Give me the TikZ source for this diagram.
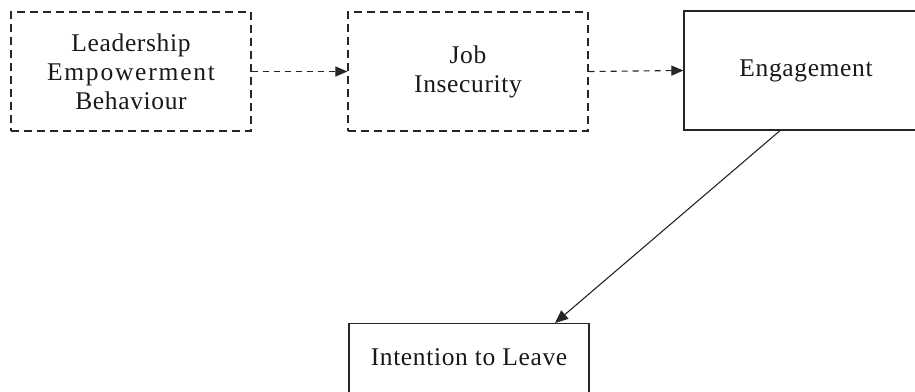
\documentclass[tikz,border=0pt]{standalone}
\usepackage{fontspec}
\setmainfont{Liberation Serif}
\newfontfamily\wideB[LetterSpace=7]{Liberation Serif}
\newfontfamily\wideC[LetterSpace=2.5]{Liberation Serif}
\usetikzlibrary{arrows.meta,positioning}
\begin{document}
\begin{tikzpicture}[x=1pt,y=1pt,
  every node/.style={font=\fontsize{25.5}{29}\selectfont, text=black!90, align=center, inner sep=0pt},
  dbox/.style={draw=black!85, line width=1.2pt, dash pattern=on 8pt off 5pt, minimum width=240pt, minimum height=119pt},
  sbox/.style={draw=black!85, line width=1.3pt},
  darrow/.style={draw=black!85, line width=1.1pt, dash pattern=on 6pt off 5pt, -{Triangle[length=12pt,width=10pt]}},
  sarrow/.style={draw=black!85, line width=1.1pt, -{Triangle[length=13pt,width=11pt]}}]
\useasboundingbox (0,0) rectangle (915,-391);
\clip (0,0) rectangle (915,-391);
\fill[white] (0,0) rectangle (915,-391);
\node[dbox] (leb) at (131,-71.5) {{\wideC Leadership}\\{\wideB Empowerment}\\{\wideC Behaviour}};
\node[dbox] (job) at (468,-71.5) {\wideC Job\\\wideC Insecurity};
\node[sbox, minimum width=260pt, minimum height=119pt, text width=244pt] (eng) at (814,-70.5) {\wideC Engagement\hspace*{16pt}};
\node[sbox, minimum width=240pt, anchor=north, text height=42pt, text depth=86pt] (int) at (469,-323) {\wideC Intention to Leave};
\draw[darrow] (leb.east) -- (job.west);
\draw[darrow] (job.east) -- (eng.west);
\draw[sarrow] ([xshift=-34pt]eng.south) -- ([xshift=86pt]int.north);
\end{tikzpicture}
\end{document}
